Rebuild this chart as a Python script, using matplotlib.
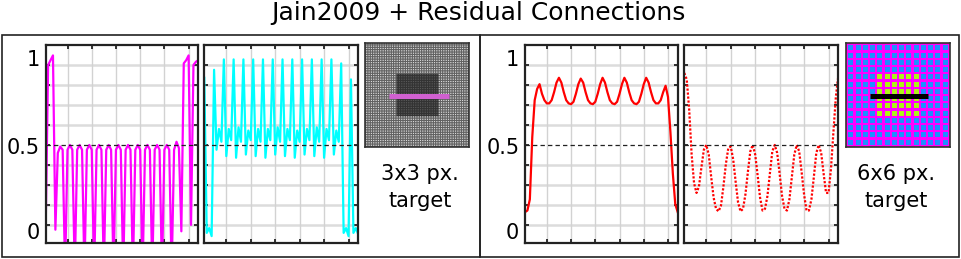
import numpy as np
import matplotlib
matplotlib.use('Agg')
import matplotlib.pyplot as plt
from matplotlib.patches import Rectangle

W, H = 962, 259

# ---------------- data ----------------
x_idx = list(range(1, 65))

magenta_vals = [-0.01, 1.00, 1.03, 1.06, -0.03, 0.45, 0.49, 0.47,
                -0.30, 0.47, 0.50, 0.47, -0.30, 0.47, 0.50, 0.47,
                -0.30, 0.47, 0.50, 0.47, -0.30, 0.47, 0.50, 0.47,
                -0.30, 0.47, 0.50, 0.47, -0.30, 0.47, 0.50, 0.47,
                -0.30, 0.47, 0.50, 0.47, -0.30, 0.47, 0.50, 0.47,
                -0.30, 0.47, 0.50, 0.47, -0.30, 0.47, 0.50, 0.47,
                -0.30, 0.47, 0.50, 0.47, -0.30, 0.47, 0.52, 0.48,
                -0.04, 1.01, 1.03, 1.06, 0.00, 1.00, 1.02, 1.03]

cyan_vals = [0.92, -0.05, -0.02, -0.07, 0.97, 0.47, 0.60, 0.52,
             1.035, 0.43, 0.60, 0.53, 1.035, 0.42, 0.61, 0.52,
             1.035, 0.44, 0.59, 0.53, 1.035, 0.43, 0.60, 0.52,
             1.035, 0.42, 0.60, 0.53, 1.035, 0.44, 0.61, 0.52,
             1.035, 0.43, 0.60, 0.53, 1.035, 0.42, 0.59, 0.52,
             1.035, 0.44, 0.60, 0.53, 1.035, 0.43, 0.61, 0.52,
             1.035, 0.42, 0.60, 0.53, 1.035, 0.44, 0.59, 0.52,
             1.01, -0.05, -0.02, -0.07, 0.91, -0.05, -0.02, -0.06]

red_solid_vals = [0.08, 0.09, 0.16, 0.55, 0.78, 0.85, 0.88, 0.82,
                  0.78, 0.76, 0.76, 0.78, 0.83, 0.89, 0.92, 0.89,
                  0.83, 0.78, 0.76, 0.755, 0.77, 0.82, 0.88, 0.915,
                  0.89, 0.83, 0.78, 0.76, 0.755, 0.77, 0.82, 0.88,
                  0.92, 0.89, 0.83, 0.78, 0.76, 0.755, 0.77, 0.82,
                  0.88, 0.92, 0.89, 0.83, 0.78, 0.76, 0.755, 0.77,
                  0.82, 0.88, 0.92, 0.89, 0.83, 0.78, 0.76, 0.76,
                  0.78, 0.83, 0.87, 0.80, 0.58, 0.32, 0.13, 0.08]

red_dotted_vals = [0.95, 0.91, 0.72, 0.44, 0.26, 0.20, 0.24, 0.36,
                   0.47, 0.50, 0.44, 0.30, 0.17, 0.10, 0.085, 0.12,
                   0.24, 0.38, 0.48, 0.49, 0.41, 0.27, 0.14, 0.085,
                   0.10, 0.19, 0.33, 0.46, 0.50, 0.44, 0.31, 0.17,
                   0.09, 0.10, 0.18, 0.32, 0.46, 0.50, 0.45, 0.32,
                   0.18, 0.10, 0.09, 0.16, 0.30, 0.44, 0.50, 0.46,
                   0.33, 0.19, 0.09, 0.09, 0.16, 0.30, 0.45, 0.50,
                   0.45, 0.32, 0.20, 0.20, 0.35, 0.58, 0.80, 0.93]

x_ticks = [10, 20, 30, 40, 50, 60]
y_grid = [0, 0.125, 0.25, 0.375, 0.625, 0.75, 0.875, 1.0]
y_ticks = [0, 0.125, 0.25, 0.375, 0.5, 0.625, 0.75, 0.875, 1.0]
y_labels = ['1', '0.5', '0']
y_label_pos = [0.994, 0.444, -0.0895]

title_text = 'Jain2009 + Residual Connections'
left_caption = ['3x3 px.', 'target']
right_caption = ['6x6 px.', 'target']

# image description (cells)
img_cells = 14
right_target_rows = (4, 10)
right_target_cols = (4, 10)

plt.rcParams['font.family'] = ['DejaVu Sans']
fig = plt.figure(figsize=(W / 100, H / 100), dpi=100)


def rect(x0, y0, x1, y1):
    return [x0 / W, 1 - y1 / H, (x1 - x0) / W, (y1 - y0) / H]


def style(ax):
    ax.set_xlim(1, 64)
    ax.set_ylim(-0.115, 1.125)
    for y in y_grid:
        ax.axhline(y, color='#dcdcdc', lw=1.8, zorder=0)
    for x in x_ticks:
        ax.axvline(x, color='#d2d2d2', lw=1.0, zorder=0)
    ax.axhline(0.5, color='#222222', lw=0.9, ls=(0, (3.5, 2.5)), zorder=3)
    ax.set_xticks(x_ticks)
    ax.set_yticks(y_ticks)
    ax.tick_params(direction='in', length=3, width=1.3, colors='#222222',
                   top=True, right=True, labelleft=False, labelbottom=False)
    for s in ax.spines.values():
        s.set_linewidth(1.6)
        s.set_color('#222222')


def ylabels(ax):
    for lab, pos in zip(y_labels, y_label_pos):
        ax.text(-0.037, pos, lab, transform=ax.get_yaxis_transform(),
                ha='right', va='baseline', fontsize=15, color='black')


# ---- plots ----
ax1 = fig.add_axes(rect(45.7, 45, 198.3, 243.3))
style(ax1)
ax1.plot(x_idx, magenta_vals, color='#ff00ff', lw=1.6, zorder=2)
ylabels(ax1)

ax2 = fig.add_axes(rect(204.3, 45, 358.3, 243.3))
style(ax2)
ax2.plot(x_idx, cyan_vals, color='#00ffff', lw=1.6, zorder=2)

ax3 = fig.add_axes(rect(525, 45, 677.7, 243.3))
style(ax3)
ax3.plot(x_idx, red_solid_vals, color='#ff0000', lw=1.6, zorder=2)
ylabels(ax3)

ax4 = fig.add_axes(rect(684.3, 45, 838.3, 243.3))
style(ax4)
ax4.plot(x_idx, red_dotted_vals, color='#ff0000', lw=1.6, ls=(0, (1, 0.8)), zorder=2)

# ---- images ----
def cell_image(n, sq, gap):
    size = n * (sq + gap) + gap
    rows = np.zeros((size, size), dtype=bool)
    cols = np.zeros((size, size), dtype=bool)
    for i in range(n):
        a = gap + i * (sq + gap)
        rows[a:a + sq, :] = True
        cols[:, a:a + sq] = True
    return rows & cols, size


# left: gray grid
n1 = 44
sq1, gap1 = 1, 1
cells1, size1 = cell_image(n1, sq1, gap1)
img1 = np.where(cells1, 0.86, 0.38)
r0, r1 = 13, 31
lo = gap1 + r0 * (sq1 + gap1)
hi = gap1 + r1 * (sq1 + gap1)
blk = np.zeros_like(cells1)
blk[lo:hi, lo:hi] = True
img1 = np.where(blk, np.where(cells1, 0.35, 0.2), img1)
axi1 = fig.add_axes(rect(365, 43.3, 470, 147.3))
axi1.imshow(img1, cmap='gray', vmin=0, vmax=1, extent=(0, 1, 1, 0), interpolation='antialiased')
axi1.plot([0.229, 0.80], [0.505, 0.505], color='#d060d0', lw=3.6, solid_capstyle='butt')
axi1.set_xlim(0, 1); axi1.set_ylim(1, 0)
axi1.set_xticks([]); axi1.set_yticks([])
for s in axi1.spines.values():
    s.set_linewidth(1.2); s.set_color('#333333')

# right: colored cells
sq2, gap2 = 2, 1
cells2, size2 = cell_image(img_cells, sq2, gap2)
img2 = np.zeros((size2, size2, 3))
img2[:] = [1.0, 0.0, 1.0]
img2[cells2] = [0.12, 0.56, 1.0]
tgt = np.zeros_like(cells2)
ra = gap2 + right_target_rows[0] * (sq2 + gap2)
rb = gap2 + right_target_rows[1] * (sq2 + gap2)
ca = gap2 + right_target_cols[0] * (sq2 + gap2)
cb = gap2 + right_target_cols[1] * (sq2 + gap2)
tgt[ra:rb, ca:cb] = True
img2[cells2 & tgt] = [0.68, 0.95, 0.1]
axi2 = fig.add_axes(rect(845, 43, 951, 147))
axi2.imshow(img2, extent=(0, 1, 1, 0), interpolation='nearest')
axi2.plot([0.226, 0.792], [0.507, 0.507], color='black', lw=3.6, solid_capstyle='butt')
axi2.set_xlim(0, 1); axi2.set_ylim(1, 0)
axi2.set_xticks([]); axi2.set_yticks([])
for s in axi2.spines.values():
    s.set_linewidth(1.2); s.set_color('#333333')

# ---- captions ----
for cx, cap in ((420, left_caption), (896.5, right_caption)):
    fig.text(cx / W, 1 - 180 / H, cap[0], ha='center', va='baseline', fontsize=15)
    fig.text(cx / W, 1 - 207 / H, cap[1], ha='center', va='baseline', fontsize=15)

fig.text(478 / W, 1 - 20 / H, title_text, ha='center', va='baseline', fontsize=18)

# ---- outer boxes ----
for x0, x1 in ((2, 480), (480, 959)):
    fig.add_artist(Rectangle((x0 / W, 1 - 257 / H), (x1 - x0) / W, (257 - 35) / H,
                             transform=fig.transFigure, fill=False,
                             edgecolor='#222222', lw=1.2))

fig.savefig('out.png', dpi=100)
